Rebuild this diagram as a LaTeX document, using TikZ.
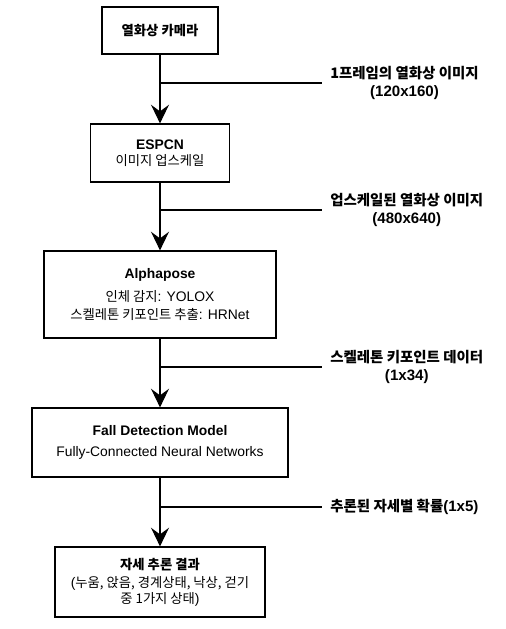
\documentclass[tikz,border=0pt]{standalone}
\usepackage{fontspec}
\setmainfont{Liberation Sans}
\newfontfamily\ko[Scale=0.96]{Noto Sans CJK KR}
\usetikzlibrary{arrows.meta}
\tikzset{
  box/.style={draw,line width=0.9pt,align=center,inner sep=0pt},
  tag/.style={anchor=west,align=center,font=\fontsize{11.3pt}{13.5pt}\selectfont\bfseries,inner xsep=6pt,inner ysep=0pt},
  flow/.style={-{Stealth[length=14pt,width=13.5pt,inset=5pt]},line width=0.8pt},
  branch/.style={line width=0.8pt}
}
\begin{document}
\begin{tikzpicture}[x=0.75pt,y=-0.75pt,font=\fontsize{10.4pt}{12pt}\selectfont]
    \useasboundingbox (0,0) rectangle (506,629);
    %Boxes
    \node[box,minimum width=87pt,minimum height=35.25pt] (cam) at (160,30.5)
        {{\ko\bfseries 열화상 카메라}};
    \node[box,minimum width=104.25pt,minimum height=43.5pt] (espcn) at (160,153)
        {\textbf{ESPCN}\\{\ko 이미지 업스케일}};
    \node[box,minimum width=174pt,minimum height=65.25pt] (pose) at (160,294.5)
        {\textbf{Alphapose}\\[5pt]{\ko 인체 감지}: YOLOX\\[1.5pt]{\ko 스켈레톤 키포인트 추출}: HRNet};
    \node[box,minimum width=192pt,minimum height=51.75pt] (fall) at (160,442.5)
        {\textbf{Fall Detection Model}\\[3.75pt]Fully-Connected Neural Networks};
    \node[box,minimum width=157.5pt,minimum height=52.5pt] (res) at (160,582)
        {{\ko\bfseries 자세 추론 결과}\\[1.5pt]({\ko 누움, 앉음, 경계상태, 낙상, 걷기}\\{\ko 중 1가지 상태})};
    %Arrows
    \draw[flow] (cam) -- (espcn);
    \draw[flow] (espcn) -- (pose);
    \draw[flow] (pose) -- (fall);
    \draw[flow] (fall) -- (res);
    %Data labels
    \coordinate (b1) at (160,83);
    \coordinate (b2) at (160,210);
    \coordinate (b3) at (160,367);
    \coordinate (b4) at (160,507);
    \node[tag] (t1) at (322,83) {{\ko 1프레임의 열화상 이미지}\\(120x160)};
    \node[tag] (t2) at (322,210) {{\ko 업스케일된 열화상 이미지}\\(480x640)};
    \node[tag] (t3) at (322,367) {{\ko 스켈레톤 키포인트 데이터}\\(1x34)};
    \node[tag] (t4) at (322,507) {{\ko 추론된 자세별 확률}(1x5)};
    \draw[branch] (b1) -- (t1.west);
    \draw[branch] (b2) -- (t2.west);
    \draw[branch] (b3) -- (t3.west);
    \draw[branch] (b4) -- (t4.west);
\end{tikzpicture}
\end{document}
